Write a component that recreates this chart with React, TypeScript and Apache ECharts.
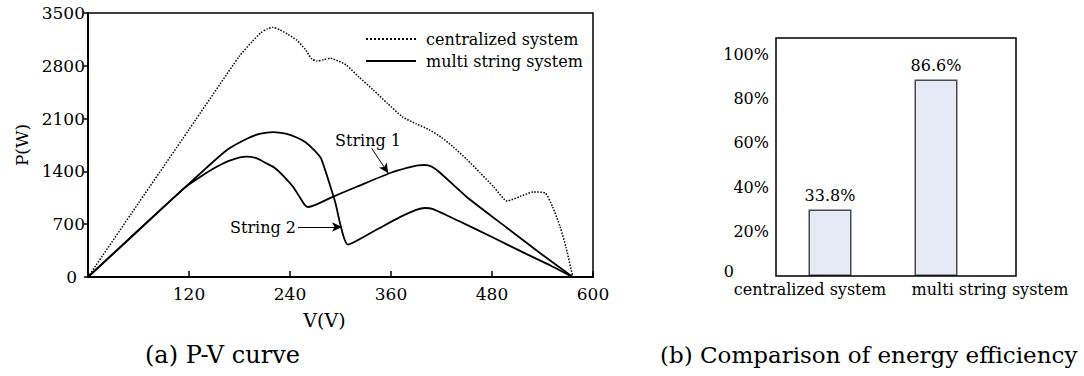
import React, { useEffect, useRef } from 'react';
import * as echarts from 'echarts';

// ---- P-V curve data (V in volts, P in watts) ----
const centralV = [0, 60, 120, 180, 195, 205, 213, 220, 228, 238, 248, 258, 266, 272, 280, 288, 298, 307, 322, 339, 356, 374, 390, 406, 420, 434, 450, 466, 482, 498, 514, 529, 543, 552, 561, 568, 576];
const centralP = [0, 980, 1955, 2930, 3120, 3235, 3290, 3310, 3275, 3215, 3140, 3020, 2890, 2862, 2880, 2900, 2860, 2810, 2650, 2479, 2300, 2121, 2030, 1949, 1850, 1724, 1560, 1380, 1195, 1008, 1070, 1127, 1114, 930, 663, 390, 0];

const string1V = [0, 60, 115, 135, 153, 170, 188, 200, 212, 222, 232, 244, 252, 258, 262, 290, 320, 359, 380, 392, 400, 408, 418, 450, 498, 537, 576];
const string1P = [0, 620, 1185, 1340, 1462, 1550, 1595, 1575, 1507, 1445, 1340, 1190, 1050, 950, 928, 1060, 1200, 1379, 1450, 1480, 1485, 1465, 1385, 1061, 650, 318, 0];

const string2V = [0, 60, 115, 140, 165, 190, 205, 220, 235, 248, 258, 268, 277, 293, 309, 340, 370, 390, 400, 410, 440, 480, 520, 550, 576];
const string2P = [0, 620, 1185, 1440, 1684, 1840, 1900, 1922, 1900, 1850, 1790, 1690, 1570, 1020, 430, 610, 790, 890, 915, 900, 745, 530, 310, 150, 0];

const seriesNames = ['centralized system', 'multi string system'];

// ---- energy efficiency bars ----
const barCategories = ['centralized system', 'multi string system'];
const barValues = [30, 88.5];
const barLabels = ['33.8%', '86.6%'];

const FONT = 'DejaVu Serif';

const zip = (v: number[], p: number[]) => v.map((x, i) => [x, p[i]]);

export default function App() {
  const ref = useRef<HTMLDivElement>(null);

  useEffect(() => {
    document.body.style.margin = '0';
    const chart = echarts.init(ref.current as HTMLDivElement, null, { renderer: 'svg' });
    const black = '#000';
    const option: any = {
      animation: false,
      backgroundColor: '#fff',
      textStyle: { fontFamily: FONT, color: black },
      grid: [
        { left: 88, top: 13, width: 505, height: 264, show: true, borderColor: black, borderWidth: 1.5 },
        { left: 777, top: 54, width: 212, height: 222 },
      ],
      legend: {
        data: seriesNames,
        orient: 'vertical',
        left: 360,
        top: 26,
        itemWidth: 50,
        itemHeight: 14,
        itemGap: 6,
        itemStyle: { opacity: 0 },
        textStyle: { fontSize: 16, fontFamily: FONT, color: black, padding: [0, 0, 0, 5] },
      },
      xAxis: [
        {
          type: 'value',
          gridIndex: 0,
          min: 0,
          max: 600,
          interval: 120,
          name: 'V(V)',
          nameLocation: 'middle',
          nameGap: 33,
          nameTextStyle: { fontSize: 19, fontFamily: FONT, color: black, padding: [0, 32, 0, 0] },
          axisLine: { show: true, lineStyle: { color: black, width: 2 } },
          axisTick: { show: true, inside: true, length: 6, lineStyle: { color: black, width: 1.5 } },
          axisLabel: { showMinLabel: false, fontSize: 17, fontFamily: FONT, color: black, margin: 8 },
          splitLine: { show: false },
        },
        {
          type: 'category',
          gridIndex: 1,
          data: barCategories,
          axisLine: { show: false },
          axisTick: { show: false },
          axisLabel: {
            interval: 0,
            margin: 5,
            formatter: (v: string, i: number) => (i === 0 ? `{a|${v}}` : `{b|${v}}`),
            rich: {
              a: { fontSize: 16, fontFamily: FONT, color: black, padding: [0, 40, 0, 0] },
              b: { fontSize: 16, fontFamily: FONT, color: black, padding: [0, 0, 0, 108] },
            },
          },
        },
      ],
      yAxis: [
        {
          type: 'value',
          gridIndex: 0,
          min: 0,
          max: 3500,
          interval: 700,
          name: 'P(W)',
          nameLocation: 'middle',
          nameGap: 58,
          nameTextStyle: { fontSize: 17, fontFamily: FONT, color: black },
          axisLine: { show: true, lineStyle: { color: black, width: 2 } },
          axisTick: { show: true, length: 4, lineStyle: { color: black, width: 1.5 } },
          axisLabel: {
            fontSize: 17,
            fontFamily: FONT,
            color: black,
            margin: 3,
            formatter: (v: number) => (v === 0 ? '{z|0}' : String(v)),
            rich: { z: { fontSize: 17, fontFamily: FONT, color: black, padding: [0, 8, 0, 0] } },
          },
          splitLine: { show: false },
        },
        {
          type: 'value',
          gridIndex: 1,
          min: 0,
          max: 100,
          interval: 20,
          axisLine: { show: false },
          axisTick: { show: false },
          axisLabel: {
            fontSize: 16,
            fontFamily: FONT,
            color: black,
            margin: 8,
            formatter: (v: number) => (v === 0 ? '{z|0}' : `${v}%`),
            rich: { z: { fontSize: 16, fontFamily: FONT, color: black, padding: [0, 35, 10, 0] } },
          },
          splitLine: { show: false },
        },
      ],
      series: [
        {
          name: seriesNames[0],
          type: 'line',
          xAxisIndex: 0,
          yAxisIndex: 0,
          data: zip(centralV, centralP),
          symbol: 'none',
          smooth: 0.2,
          lineStyle: { color: black, width: 1.5, type: 'dotted' },
          itemStyle: { color: black },
        },
        {
          name: seriesNames[1],
          type: 'line',
          xAxisIndex: 0,
          yAxisIndex: 0,
          data: zip(string1V, string1P),
          symbol: 'none',
          smooth: 0.2,
          lineStyle: { color: black, width: 1.8, type: 'solid' },
          itemStyle: { color: black },
          markLine: {
            silent: true,
            symbol: ['none', 'arrow'],
            symbolSize: [7, 10],
            lineStyle: { color: black, width: 1, type: 'solid' },
            label: { show: false },
            data: [
              [{ coord: [337, 1706] }, { coord: [356.8, 1375] }],
              [{ coord: [249.5, 663] }, { coord: [301.8, 663] }],
            ],
          },
        },
        {
          name: seriesNames[1],
          type: 'line',
          xAxisIndex: 0,
          yAxisIndex: 0,
          data: zip(string2V, string2P),
          symbol: 'none',
          smooth: 0.2,
          lineStyle: { color: black, width: 1.8, type: 'solid' },
          itemStyle: { color: black },
        },
        {
          name: 'efficiency',
          type: 'bar',
          xAxisIndex: 1,
          yAxisIndex: 1,
          data: barValues,
          barWidth: 43,
          itemStyle: { color: '#e5ebf6', borderColor: '#4a4a4a', borderWidth: 1.5 },
          label: {
            show: true,
            position: 'top',
            distance: 6,
            fontSize: 16,
            fontFamily: FONT,
            color: black,
            formatter: (p: any) => barLabels[p.dataIndex],
          },
        },
      ],
      graphic: [
        {
          type: 'rect',
          z: 10,
          shape: { x: 776, y: 38, width: 240, height: 238 },
          style: { fill: 'none', stroke: black, lineWidth: 1.5 },
        },
        {
          type: 'text',
          x: 335,
          y: 140,
          style: { text: 'String 1', fontSize: 16, fontFamily: FONT, fill: black, verticalAlign: 'middle', align: 'left' },
        },
        {
          type: 'text',
          x: 230,
          y: 227,
          style: { text: 'String 2', fontSize: 16, fontFamily: FONT, fill: black, verticalAlign: 'middle', align: 'left' },
        },
        {
          type: 'text',
          x: 145,
          y: 355,
          style: { text: '(a) P-V curve', fontSize: 24, fontFamily: FONT, fill: black, verticalAlign: 'middle', align: 'left' },
        },
        {
          type: 'text',
          x: 660,
          y: 355,
          style: { text: '(b) Comparison of energy efficiency', fontSize: 23, fontFamily: FONT, fill: black, verticalAlign: 'middle', align: 'left' },
        },
      ],
    };
    chart.setOption(option);
    return () => chart.dispose();
  }, []);

  return <div ref={ref} style={{ position: 'absolute', left: 0, top: 0, width: 1084, height: 376 }} />;
}
